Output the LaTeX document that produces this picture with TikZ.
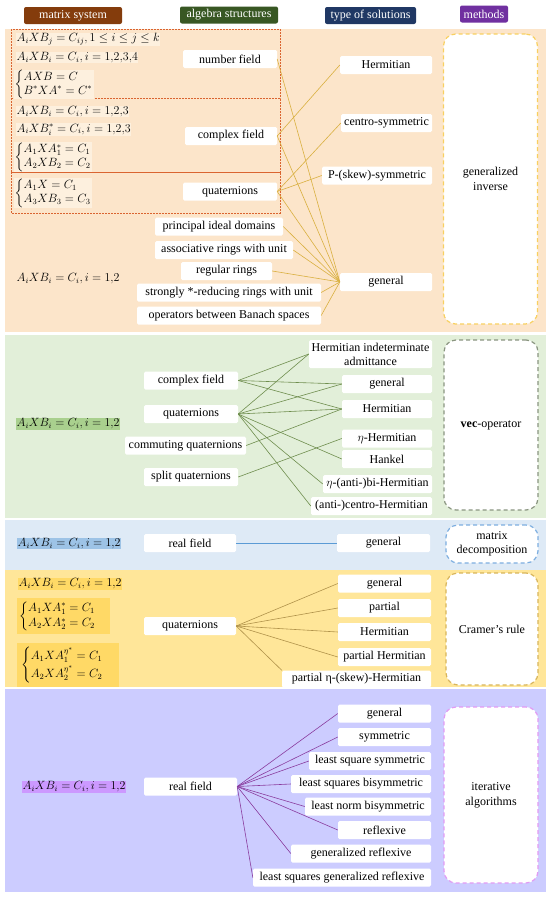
\documentclass[tikz,border=0pt]{standalone}
\usepackage{amsmath}
\usepackage{fontspec}
\setmainfont{Liberation Serif}
\definecolor{bandA}{HTML}{FCE5CA}
\definecolor{bandB}{HTML}{E2EFD9}
\definecolor{bandC}{HTML}{DEEAF6}
\definecolor{bandD}{HTML}{FFE699}
\definecolor{bandE}{HTML}{CCCCFF}
\definecolor{eqA}{HTML}{FDF0DE}
\definecolor{eqB}{HTML}{A9D08E}
\definecolor{eqC}{HTML}{9DC3E6}
\definecolor{eqD}{HTML}{FFD966}
\definecolor{eqE}{HTML}{CC99FF}
\definecolor{hdA}{HTML}{843C0C}
\definecolor{hdB}{HTML}{385723}
\definecolor{hdC}{HTML}{203864}
\definecolor{hdD}{HTML}{7030A0}
\definecolor{lnA}{HTML}{D9B040}
\definecolor{lnB}{HTML}{6F8E4E}
\definecolor{lnC}{HTML}{5B9BD5}
\definecolor{lnD}{HTML}{B0924A}
\definecolor{lnE}{HTML}{8A3C9E}
\definecolor{mbA}{HTML}{F8D060}
\definecolor{mbB}{HTML}{8A9580}
\definecolor{mbC}{HTML}{7DAEE0}
\definecolor{mbD}{HTML}{D8B55A}
\definecolor{mbE}{HTML}{E29AF4}
\definecolor{redd}{HTML}{DA6430}
\newcommand{\eqcases}[2]{{\renewcommand{\arraystretch}{1.05}\left\{\begin{array}{@{}l@{}}#1\\ #2\end{array}\right.}}
\tikzset{
 sbox/.style={fill=white, rounded corners=1.5pt, minimum height=18pt, inner sep=1pt, align=center, font=\fontsize{12}{14}\selectfont},
 hdr/.style={rounded corners=2pt, minimum height=17pt, inner sep=1pt, text=white, font=\fontsize{12}{13}\selectfont},
 mbox/.style={fill=white, rounded corners=12pt, dash pattern=on 4pt off 3pt, line width=1.2pt, align=center, font=\fontsize{12}{15}\selectfont, inner sep=0pt},
 eqn/.style={anchor=west, inner sep=0.5pt, font=\fontsize{11.5}{13}\selectfont},
 ln/.style={line width=0.6pt},
 rbox/.style={draw=redd, dash pattern=on 2pt off 1pt, line width=0.8pt},
}
\begin{document}
\begin{tikzpicture}[x=1pt,y=-1pt]
\useasboundingbox (0,0) rectangle (550,897);
\fill[white] (0,0) rectangle (550,897);
% bands
\fill[bandA] (5,29) rectangle (546,332);
\fill[bandB] (5,335) rectangle (546,518);
\fill[bandC] (5,520) rectangle (546,570);
\fill[bandD] (5,570) rectangle (546,687);
\fill[bandE] (5,689) rectangle (546,892);
% headers
\node[hdr, fill=hdA, minimum width=98pt] (h1) at (73,15.5) {matrix system};
\node[hdr, fill=hdB, minimum width=98pt] (h2) at (229,15) {algebra structures};
\node[hdr, fill=hdC, minimum width=91pt] (h3) at (370.5,15.5) {type of solutions};
\node[hdr, fill=hdD, minimum width=48pt] (h4) at (484,14) {methods};
% ===== band 1 =====
\draw[rbox] (11,29) rectangle (280,98);
\draw[rbox] (11,98) rectangle (280,172);
\draw[rbox] (11,172) rectangle (280,213);
\node[eqn, fill=eqA] (e1) at (16,39.5) {$A_iXB_j=C_{ij}{,}\,1\le i\le j\le k$};
\node[eqn, fill=eqA] (e2) at (16,57.5) {$A_iXB_i=C_i{,}\,i=1{,}2{,}3{,}4$};
\node[eqn, fill=eqA] (e3) at (14,84.5) {$\eqcases{AXB=C}{B^*XA^*=C^*}$};
\node[eqn, fill=eqA] (e4) at (16,111.5) {$A_iXB_i=C_i{,}\,i=1{,}2{,}3$};
\node[eqn, fill=eqA] (e5) at (16,129.5) {$A_iXB_i^*=C_i{,}\,i=1{,}2{,}3$};
\node[eqn, fill=eqA] (e6) at (14,157) {$\eqcases{A_1XA_1^*=C_1}{A_2XB_2=C_2}$};
\node[eqn, fill=eqA] (e7) at (14,193) {$\eqcases{A_1X=C_1}{A_3XB_3=C_3}$};
\node[eqn] (e8) at (16,279) {$A_iXB_i=C_i{,}\,i=1{,}2$};
\node[sbox, minimum width=94pt] (nf) at (230,59) {number field};
\node[sbox, minimum width=92pt] (cf1) at (231,136) {complex field};
\node[sbox, minimum width=94pt] (q1) at (230,191.5) {quaternions};
\node[sbox, minimum width=128pt] (pid) at (219,226.5) {principal ideal domains};
\node[sbox, minimum width=138pt] (arwu) at (224,250) {associative rings with unit};
\node[sbox, minimum width=91pt] (rr) at (226.5,271) {regular rings};
\node[sbox, minimum width=184pt] (srr) at (229,292.5) {strongly *-reducing rings with unit};
\node[sbox, minimum width=184pt] (obs) at (229,315.5) {operators between Banach spaces};
\node[sbox, minimum width=92pt] (herm1) at (386,65) {Hermitian};
\node[sbox, minimum width=91pt] (cs) at (386.5,123) {centro-symmetric};
\node[sbox, minimum width=110pt] (psk) at (377,175.5) {P-(skew)-symmetric};
\node[sbox, minimum width=92pt] (gen1) at (386,282) {general};
\node[mbox, draw=mbA, minimum width=94pt, minimum height=290pt] (gi) at (490.5,179) {generalized\\inverse};
\foreach \a/\b in {nf/gen1, cf1/herm1, cf1/gen1, q1/cs, q1/psk, q1/gen1, pid/gen1, arwu/gen1, rr/gen1, srr/gen1, obs/gen1}
  \draw[ln, lnA] (\a.east) -- (\b.west);
% ===== band 2 =====
\node[eqn, fill=eqB] (eqb2) at (16,424) {$A_iXB_i=C_i{,}\,i=1{,}2$};
\node[sbox, minimum width=94pt] (cf2) at (191,380.5) {complex field};
\node[sbox, minimum width=94pt] (q2) at (191,414) {quaternions};
\node[sbox, minimum width=121pt] (cq) at (185.5,445.5) {commuting quaternions};
\node[sbox, minimum width=94pt] (sq) at (191,477) {split quaternions};
\node[sbox, minimum width=123pt, minimum height=28pt, font=\fontsize{12}{14}\selectfont] (hia) at (370.5,354) {Hermitian indeterminate\\admittance};
\node[sbox, minimum width=90pt] (gen2) at (387,384) {general};
\node[sbox, minimum width=90pt] (herm2) at (387,409) {Hermitian};
\node[sbox, minimum width=90pt] (etah) at (387,438.5) {$\eta$-Hermitian};
\node[sbox, minimum width=90pt] (hankel) at (387,459) {Hankel};
\node[sbox, minimum width=109pt] (etabi) at (377.5,484) {$\eta$-(anti-)bi-Hermitian};
\node[sbox, minimum width=121pt] (ach) at (371.5,506) {(anti-)centro-Hermitian};
\node[mbox, draw=mbB, minimum width=94pt, minimum height=170pt] (vec) at (491,425) {\textbf{vec}-operator};
\foreach \a/\b in {cf2/hia, cf2/gen2, cf2/herm2, q2/hia, q2/gen2, q2/herm2, q2/hankel, q2/etabi, q2/ach, cq/herm2, sq/etah}
  \draw[ln, lnB] (\a.east) -- (\b.west);
% ===== band 3 =====
\node[eqn, fill=eqC] (eqb3) at (17,543.5) {$A_iXB_i=C_i{,}\,i=1{,}2$};
\node[sbox, minimum width=92pt] (rf3) at (190,543) {real field};
\node[sbox, minimum width=93pt] (gen3) at (383.5,543) {general};
\node[mbox, draw=mbC, minimum width=92pt, minimum height=38pt, font=\fontsize{12}{14}\selectfont] (md) at (492,544) {matrix\\decomposition};
\draw[ln, lnC] (rf3.east) -- (gen3.west);
% ===== band 4 =====
\node[eqn, fill=eqD] (eqb4) at (18,584) {$A_iXB_i=C_i{,}\,i=1{,}2$};
\node[eqn, fill=eqD, inner sep=2pt] (c4a) at (17,616) {$\begin{cases}A_1XA_1^*=C_1\\ A_2XA_2^*=C_2\end{cases}$};
\node[eqn, fill=eqD, inner sep=4pt] (c4b) at (17,665) {$\begin{cases}A_1XA_1^{\eta^*}=C_1\\[2pt] A_2XA_2^{\eta^*}=C_2\end{cases}$};
\node[sbox, minimum width=92pt] (q4) at (190,626) {quaternions};
\node[sbox, minimum width=93pt] (gen4) at (384.5,583.5) {general};
\node[sbox, minimum width=93pt] (part) at (384.5,608) {partial};
\node[sbox, minimum width=93pt] (herm4) at (384.5,632) {Hermitian};
\node[sbox, minimum width=93pt] (pherm) at (384.5,657) {partial Hermitian};
\node[sbox, minimum width=149pt, minimum height=17pt] (peta) at (356.5,679) {partial η-(skew)-Hermitian};
\node[mbox, draw=mbD, minimum width=92pt, minimum height=112pt] (cr) at (492,629) {Cramer’s rule};
\foreach \b in {gen4, part, herm4, pherm}
  \draw[ln, lnD] (q4.east) -- (\b.west);
\draw[ln, lnD] (q4.east) -- (peta.north west);
% ===== band 5 =====
\node[eqn, fill=eqE] (eqb5) at (22,787) {$A_iXB_i=C_i{,}\,i=1{,}2$};
\node[sbox, minimum width=93pt] (rf5) at (190.5,786.5) {real field};
\node[sbox, minimum width=93pt] (gen5) at (384.5,713.5) {general};
\node[sbox, minimum width=93pt] (sym) at (384.5,737) {symmetric};
\node[sbox, minimum width=122pt] (lss) at (370,761) {least square symmetric};
\node[sbox, minimum width=140pt] (lsb) at (361,784) {least squares bisymmetric};
\node[sbox, minimum width=126pt] (lnb) at (368,806.5) {least norm bisymmetric};
\node[sbox, minimum width=93pt] (refl) at (384.5,830) {reflexive};
\node[sbox, minimum width=140pt] (grefl) at (361,853.5) {generalized reflexive};
\node[sbox, minimum width=178pt] (lsgr) at (342,877.5) {least squares generalized reflexive};
\node[mbox, draw=mbE, minimum width=94pt, minimum height=176pt] (iter) at (491,795) {iterative\\algorithms};
\foreach \b in {gen5, sym, lss, lsb, lnb, refl, grefl, lsgr}
  \draw[ln, lnE] (rf5.east) -- (\b.west);
\end{tikzpicture}
\end{document}
